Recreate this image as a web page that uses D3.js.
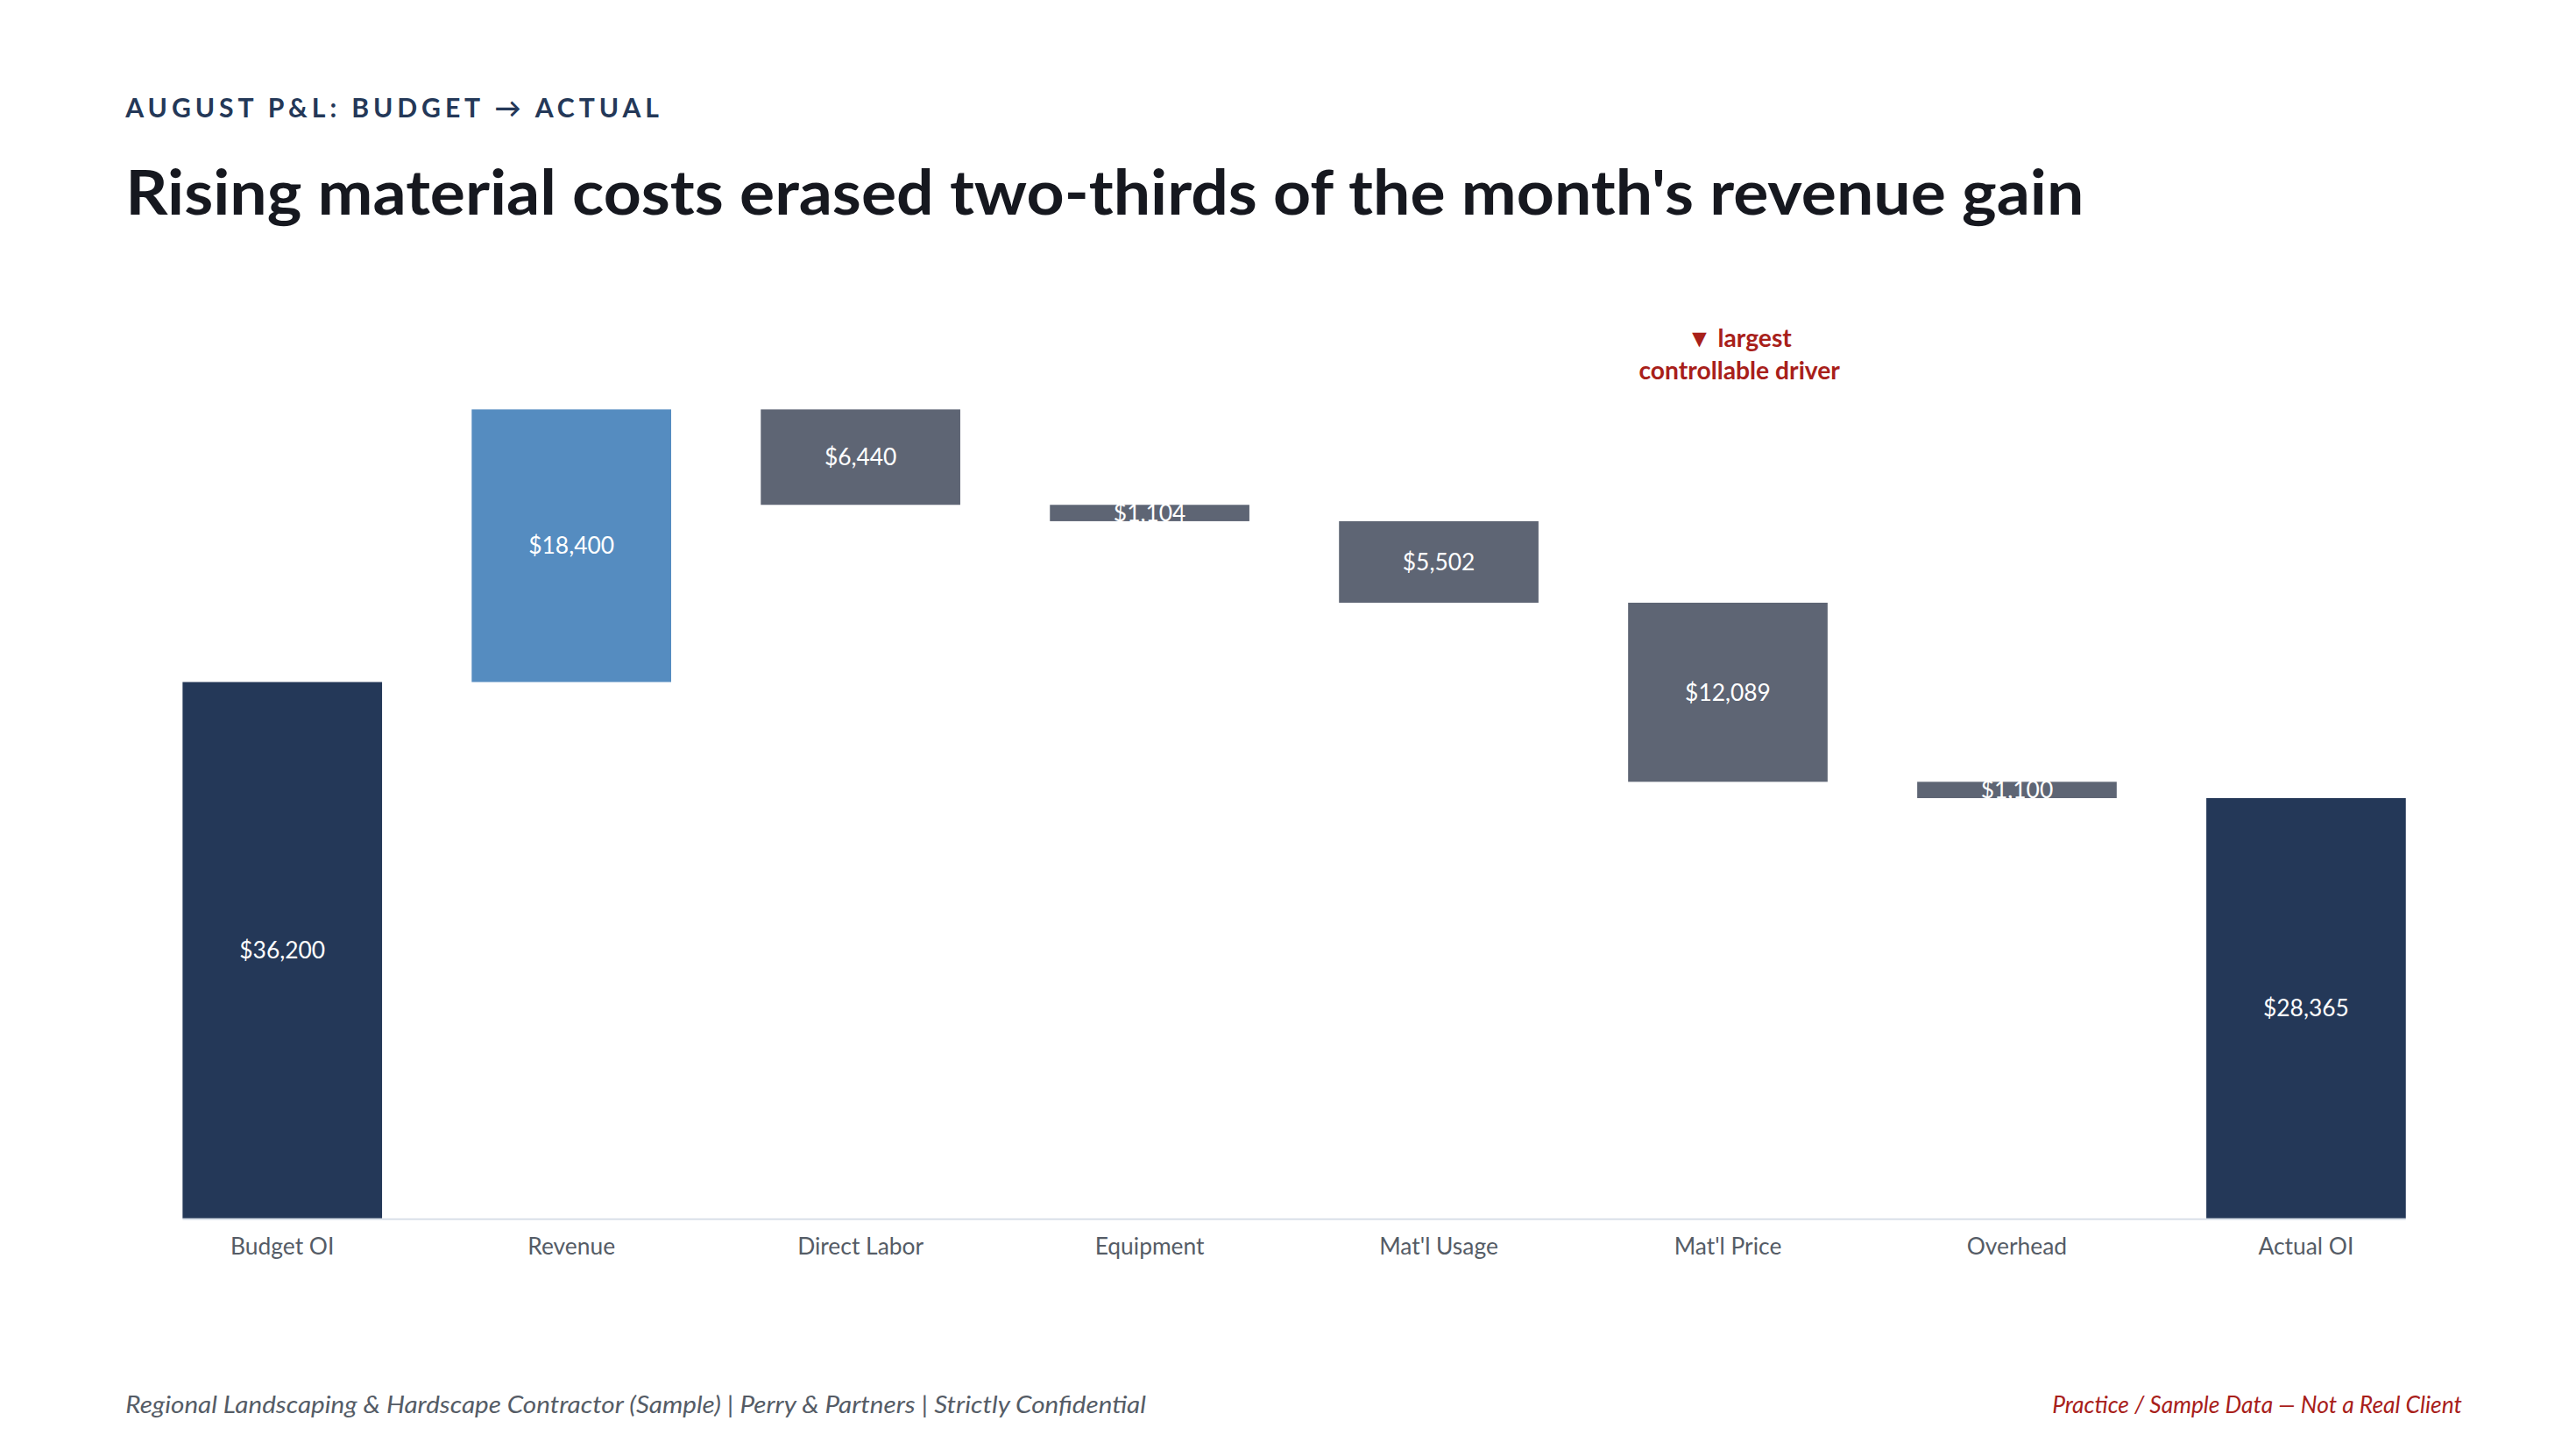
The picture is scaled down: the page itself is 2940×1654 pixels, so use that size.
<!DOCTYPE html>
<html><head><meta charset="utf-8">
<script src="https://cdn.jsdelivr.net/npm/d3@7"></script>
<style>html,body{margin:0;background:#fff}</style></head>
<body><script>
const categories=["Budget OI","Revenue","Direct Labor","Equipment","Mat'l Usage","Mat'l Price","Overhead","Actual OI"];
const deltas=[36200,18400,-6440,-1104,-5502,-12089,-1100,28365];
const kinds=["total","up","down","down","down","down","down","total"];
const colors={total:"#243858",up:"#558cc0",down:"#5e6574"};
const F="Lato, 'Noto Sans', sans-serif";
const svg=d3.select("body").append("svg").attr("width",2940).attr("height",1654).attr("viewBox","0 0 1560 877.7");
// compute waterfall
let run=0;const bars=deltas.map((d,i)=>{let y0,y1;
 if(kinds[i]==="total"){y0=0;y1=d;run=d;}else{y0=run;y1=run+d;run=y1;}
 return {c:categories[i],v:Math.abs(d),lo:Math.min(y0,y1),hi:Math.max(y0,y1),k:kinds[i]};});
const x=d3.scaleBand().domain(categories).range([82.5,1485]).paddingInner(0.31).paddingOuter(0.16);
const y=d3.scaleLinear().domain([0,54600]).range([738,248]);
svg.append("text").attr("x",76).attr("y",71).attr("font-family",F).attr("font-weight",700).attr("font-size",16).attr("letter-spacing",2.6).attr("fill","#243858").text("AUGUST P&L: BUDGET → ACTUAL");
svg.append("text").attr("x",76).attr("y",130).attr("font-family",F).attr("font-weight",700).attr("font-size",38).attr("fill","#16181f").attr("textLength",1186).attr("lengthAdjust","spacingAndGlyphs").text("Rising material costs erased two-thirds of the month's revenue gain");
svg.selectAll("rect.b").data(bars).join("rect").attr("x",d=>x(d.c)).attr("width",x.bandwidth()).attr("y",d=>y(d.hi)).attr("height",d=>y(d.lo)-y(d.hi)).attr("fill",d=>colors[d.k]);
svg.append("line").attr("x1",x(categories[0])).attr("x2",x(categories[7])+x.bandwidth()).attr("y1",738.5).attr("y2",738.5).attr("stroke","#d4dce6").attr("stroke-width",1);
svg.selectAll("text.v").data(bars).join("text").attr("x",d=>x(d.c)+x.bandwidth()/2).attr("y",d=>(y(d.hi)+y(d.lo))/2+5).attr("text-anchor","middle").attr("font-family",F).attr("font-size",14).attr("fill","#fff").text(d=>"$"+d3.format(",")(d.v));
const ax=svg.append("g").attr("transform","translate(0,738)").call(d3.axisBottom(x).tickSize(0).tickPadding(12));
ax.select(".domain").remove();
ax.selectAll("text").attr("font-family",F).attr("font-size",14).attr("fill","#555c66");
const an=svg.append("text").attr("x",x("Mat'l Price")+x.bandwidth()/2+7).attr("text-anchor","middle").attr("font-family",F).attr("font-weight",700).attr("font-size",15).attr("fill","#a8201a");
an.append("tspan").attr("x",x("Mat'l Price")+x.bandwidth()/2+7).attr("y",210).text("▼ largest");
an.append("tspan").attr("x",x("Mat'l Price")+x.bandwidth()/2+7).attr("y",230).text("controllable driver");
svg.append("text").attr("x",76).attr("y",856).attr("font-family",F).attr("font-style","italic").attr("font-size",14).attr("fill","#555c66").attr("textLength",618).attr("lengthAdjust","spacingAndGlyphs").text("Regional Landscaping & Hardscape Contractor (Sample)  |  Perry & Partners  |  Strictly Confidential");
svg.append("text").attr("x",1491).attr("y",856).attr("text-anchor","end").attr("font-family",F).attr("font-style","italic").attr("font-size",14).attr("fill","#a8201a").text("Practice / Sample Data — Not a Real Client");
</script></body></html>
